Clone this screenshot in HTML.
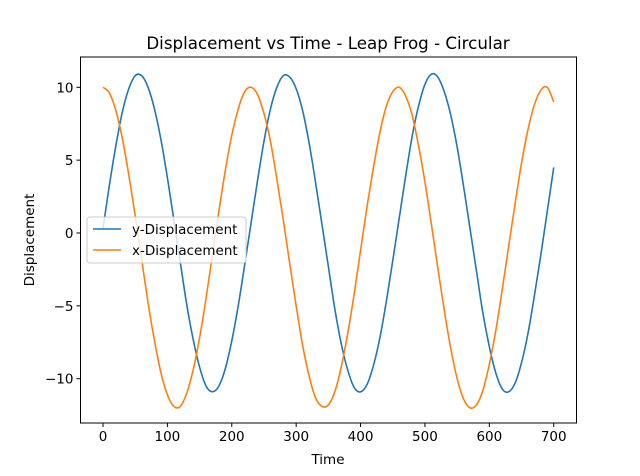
<!DOCTYPE html>
<html><head><meta charset="utf-8"><style>
body{margin:0;background:#fff}
svg{display:block;font-family:"DejaVu Sans","Liberation Sans",sans-serif}
</style></head><body>
<svg id="chart" width="640" height="476">
<text x="328" y="49" font-size="16.7" text-anchor="middle">Displacement vs Time - Leap Frog - Circular</text>
<g id="plot"></g>
<text x="328" y="464" font-size="13.5" text-anchor="middle">Time</text>
<text transform="translate(34,240) rotate(-90)" font-size="13.5" text-anchor="middle">Displacement</text>
</svg>
<script>
const times = [];
for (let i = 0; i <= 70; i++) times.push(i * 10);
const yDisp = [0.3,3.3,6.0,8.3,9.9,10.8,10.8,10.0,8.5,6.4,3.8,0.9,-2.0,-4.9,-7.3,-9.2,-10.5,-10.9,-10.5,-9.3,-7.4,-5.0,-2.2,0.7,3.6,6.3,8.5,10.0,10.8,10.7,9.9,8.4,6.2,3.5,0.6,-2.3,-5.2,-7.6,-9.4,-10.6,-10.9,-10.4,-9.1,-7.2,-4.7,-1.9,1.0,3.9,6.6,8.7,10.2,10.9,10.7,9.7,8.1,5.9,3.2,0.3,-2.6,-5.5,-7.8,-9.6,-10.7,-10.9,-10.3,-8.9,-6.9,-4.3,-1.5,1.5,4.5];
const xDisp = [10.0,9.6,8.4,6.5,4.0,1.2,-1.8,-4.8,-7.4,-9.6,-11.1,-11.9,-11.9,-11.0,-9.4,-7.2,-4.5,-1.5,1.5,4.3,6.7,8.5,9.7,10.0,9.5,8.2,6.3,3.7,0.9,-2.1,-5.0,-7.7,-9.8,-11.3,-11.9,-11.8,-10.9,-9.2,-6.9,-4.2,-1.2,1.8,4.5,6.9,8.7,9.7,10.0,9.4,8.1,6.0,3.5,0.6,-2.4,-5.3,-7.9,-10.0,-11.4,-12.0,-11.8,-10.8,-9.0,-6.7,-3.9,-0.9,2.0,4.8,7.1,8.8,9.8,10.0,9.0];
const xTicks = [0,100,200,300,400,500,600,700];
const yTicks = [10,5,0,-5,-10];
const seriesNames = ["y-Displacement","x-Displacement"];

const L=80.5,R=576.5,T=57,B=423;
const sx = t => 103 + t*0.6439;
const sy = v => 233 - v*14.57;
const NS="http://www.w3.org/2000/svg";
const g=document.getElementById('plot');
function mk(tag,attrs){const e=document.createElementNS(NS,tag);for(const k in attrs)e.setAttribute(k,attrs[k]);g.appendChild(e);return e;}

function smoothPath(pts){
  let d='M'+pts[0][0].toFixed(2)+','+pts[0][1].toFixed(2);
  for(let i=0;i<pts.length-1;i++){
    const p0=pts[Math.max(0,i-1)],p1=pts[i],p2=pts[i+1],p3=pts[Math.min(pts.length-1,i+2)];
    const c1x=p1[0]+(p2[0]-p0[0])/6,c1y=p1[1]+(p2[1]-p0[1])/6;
    const c2x=p2[0]-(p3[0]-p1[0])/6,c2y=p2[1]-(p3[1]-p1[1])/6;
    d+=' C'+c1x.toFixed(2)+','+c1y.toFixed(2)+' '+c2x.toFixed(2)+','+c2y.toFixed(2)+' '+p2[0].toFixed(2)+','+p2[1].toFixed(2);
  }
  return d;
}
function line(vals,color,name){
  const pts=vals.map((v,i)=>[sx(times[i]),sy(v)]);
  const p=mk('path',{d:smoothPath(pts),fill:'none',stroke:color,'stroke-width':1.6,'stroke-linejoin':'round'});
  
  
}
line(yDisp,'#1f77b4','y-displacement-line');
line(xDisp,'#ff7f0e','x-displacement-line');

const fr=mk('rect',{x:L,y:T,width:R-L,height:B-T,fill:'none',stroke:'#000','stroke-width':1});



xTicks.forEach(t=>{
  const x=sx(t);
  const tk=mk('line',{x1:x,x2:x,y1:B,y2:B+4,stroke:'#000'});
  
  
  const tx=mk('text',{x:x,y:B+18,'font-size':13.5,'text-anchor':'middle'});
  tx.textContent=t;
  
  
});
yTicks.forEach(v=>{
  const y=sy(v);
  const tk=mk('line',{x1:L-4,x2:L,y1:y,y2:y,stroke:'#000'});
  
  
  const tx=mk('text',{x:L-7,y:y+5,'font-size':13.5,'text-anchor':'end'});
  tx.textContent=v<0?'\u2212'+Math.abs(v):v;
  
  
});

const lg=mk('rect',{x:87,y:217,width:159,height:46,rx:3,fill:'#fff','fill-opacity':0.8,stroke:'#ccc'});


['#1f77b4','#ff7f0e'].forEach((c,i)=>{
  const y=229+i*21;
  const l=mk('line',{x1:93,x2:121,y1:y,y2:y,stroke:c,'stroke-width':1.6});
  
  
  const t=mk('text',{x:132,y:y+5,'font-size':13.5});
  t.textContent=seriesNames[i];
  
  
});
</script>
</body></html>
